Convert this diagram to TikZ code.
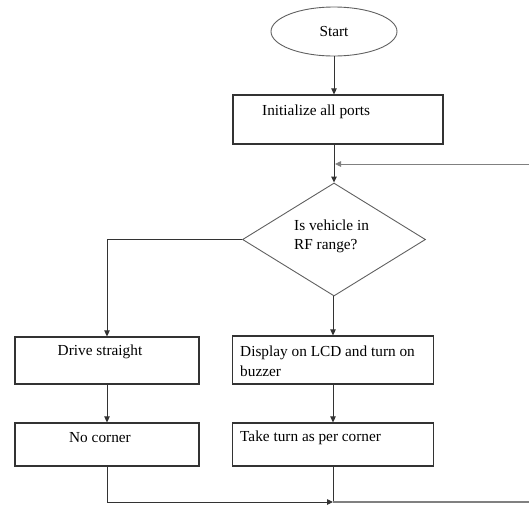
\documentclass[tikz,border=0pt]{standalone}
\usepackage{fontspec}
\setmainfont{Liberation Serif}
\usetikzlibrary{shapes.geometric,arrows.meta}
\definecolor{linec}{HTML}{333333}
\definecolor{thinc}{HTML}{606060}
\definecolor{fbc}{HTML}{808080}
\begin{document}
\begin{tikzpicture}[x=1pt,y=-1pt,
  box/.style={draw=linec, line width=1.2pt, rectangle, inner sep=0pt},
  txt/.style={inner sep=0pt, font=\fontsize{15.3}{19.5}\selectfont, text=black},
  arr/.style={draw=linec, line width=0.9pt, -{Triangle[length=6pt,width=5.5pt]}},
  plain/.style={draw=linec, line width=0.9pt},
  fb/.style={draw=fbc, line width=1.1pt}]
\useasboundingbox (0,0) rectangle (529,504);
% nodes
\node[ellipse, draw=thinc, line width=0.9pt, minimum width=126pt, minimum height=49pt, inner sep=0pt, txt] (start) at (334,31.5) {Start};
\node[box, minimum width=210pt, minimum height=49pt] (init) at (338,119.5) {};
\node[txt, anchor=west] (tinit) at (262,112) {Initialize all ports};
\node[diamond, draw=thinc, line width=0.9pt, minimum width=183pt, minimum height=113pt, inner sep=0pt] (dia) at (334,239.5) {};
\node[txt, anchor=west, align=left] (tdia) at (294,236.5) {Is vehicle in\\RF range?};
\node[box, minimum width=184pt, minimum height=47pt] (drive) at (107,360.5) {};
\node[txt] (tdrive) at (100,352) {Drive straight};
\node[box, minimum width=201pt, minimum height=48pt] (disp) at (333,360) {};
\node[txt, anchor=west, align=left] (tdisp) at (240,361.5) {Display on LCD and turn on\\buzzer};
\node[box, minimum width=184pt, minimum height=43pt] (noc) at (107,444.5) {};
\node[txt] (tnoc) at (100,438) {No corner};
\node[box, minimum width=201pt, minimum height=43pt] (take) at (333,444.5) {};
\node[txt, anchor=west] (ttake) at (240,438) {Take turn as per corner};
\coordinate (fbR) at (529,164);
\coordinate (fbJ) at (335,164);
\coordinate (join) at (333,502);
\coordinate (botR) at (529,502);
% connectors
\draw[arr] (start.south) -- (start.south |- init.north);
\draw[arr] (start.south |- init.south) -- (dia.north);
\draw[arr, draw=fbc] (fbR) -- (fbJ);
\draw[arr] (dia.west) -| (drive.north);
\draw[arr] (disp.north |- dia.south) -- (disp.north);
\draw[arr] (drive.south) -- (noc.north);
\draw[arr] (disp.south) -- (take.north);
\draw[arr] (noc.south) |- (join);
\draw[plain] (take.south) -- (join);
\draw[fb] (join) -- (botR);
\end{tikzpicture}
\end{document}
